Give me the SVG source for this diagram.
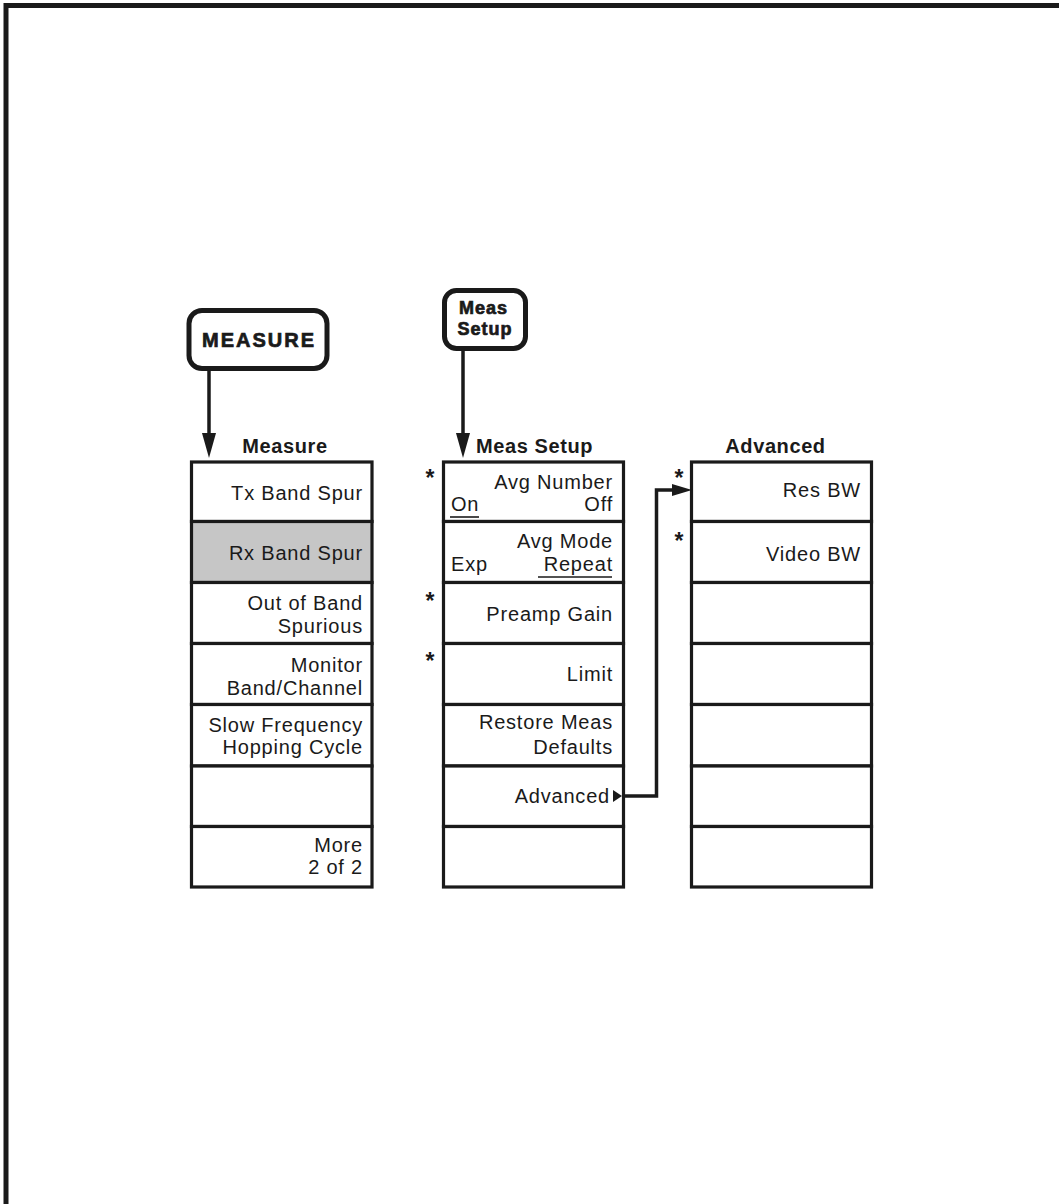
<svg xmlns="http://www.w3.org/2000/svg" width="1059" height="1204" viewBox="0 0 1059 1204">
<style>
.bg{fill:#ffffff}
.frame{fill:none;stroke:#1a1a1a;stroke-width:5}
.box{fill:#ffffff;stroke:#1a1a1a;stroke-width:3.2}
.sel{fill:#c6c6c6;stroke:#1a1a1a;stroke-width:3.2}
.btn{fill:#ffffff;stroke:#1a1a1a;stroke-width:5}
.t{font-family:"Liberation Sans",Arial,sans-serif;font-size:20px;letter-spacing:0.8px;fill:#1a1a1a}
.r{text-anchor:end}
.h{font-family:"Liberation Sans",Arial,sans-serif;font-size:20px;font-weight:bold;letter-spacing:0.6px;fill:#1a1a1a;text-anchor:middle}
.bt{font-family:"Liberation Sans",Arial,sans-serif;font-weight:bold;fill:#1a1a1a;stroke:#1a1a1a;stroke-width:0.7;text-anchor:middle}
.star{font-family:"Liberation Sans",Arial,sans-serif;font-size:23px;font-weight:bold;fill:#1a1a1a;text-anchor:middle}
.ln{fill:none;stroke:#1a1a1a;stroke-width:3.5}
.ul{stroke:#1a1a1a;stroke-width:1.6}
.ah{fill:#1a1a1a}
</style>
<rect class="bg" x="0" y="0" width="1059" height="1204"/>
<path class="frame" d="M6 1204 V5.5 H1059"/>

<g id="btn-measure">
<rect class="btn" x="189" y="310.5" width="138" height="58" rx="13"/>
<text class="bt" x="259" y="346.5" font-size="20" letter-spacing="2">MEASURE</text>
</g>
<g id="btn-meas-setup">
<rect class="btn" x="444.5" y="290.5" width="81" height="58" rx="12"/>
<text class="bt" x="483.5" y="314" font-size="18" letter-spacing="1">Meas</text>
<text class="bt" x="485" y="335" font-size="18" letter-spacing="1">Setup</text>
</g>

<g id="menu-measure">
<text class="h" x="285" y="452.5">Measure</text>
<rect class="box" x="191.5" y="462" width="180.5" height="59.5"/>
<rect class="sel" x="191.5" y="521.5" width="180.5" height="61"/>
<rect class="box" x="191.5" y="582.5" width="180.5" height="61"/>
<rect class="box" x="191.5" y="643.5" width="180.5" height="61"/>
<rect class="box" x="191.5" y="704.5" width="180.5" height="61.5"/>
<rect class="box" x="191.5" y="766" width="180.5" height="60.5"/>
<rect class="box" x="191.5" y="826.5" width="180.5" height="60.5"/>
<text class="t r" x="363" y="499.5">Tx Band Spur</text>
<text class="t r" x="363" y="560">Rx Band Spur</text>
<text class="t r" x="363" y="610">Out of Band</text>
<text class="t r" x="363" y="632.5">Spurious</text>
<text class="t r" x="363" y="672">Monitor</text>
<text class="t r" x="363" y="695">Band/Channel</text>
<text class="t r" x="363" y="732">Slow Frequency</text>
<text class="t r" x="363" y="753.5">Hopping Cycle</text>
<text class="t r" x="363" y="852">More</text>
<text class="t r" x="363" y="873.5">2 of 2</text>
</g>

<g id="menu-meas-setup">
<text class="h" x="534.5" y="452.5">Meas Setup</text>
<rect class="box" x="443.5" y="462" width="180" height="59.5"/>
<rect class="box" x="443.5" y="521.5" width="180" height="61"/>
<rect class="box" x="443.5" y="582.5" width="180" height="61"/>
<rect class="box" x="443.5" y="643.5" width="180" height="61"/>
<rect class="box" x="443.5" y="704.5" width="180" height="61.5"/>
<rect class="box" x="443.5" y="766" width="180" height="60.5"/>
<rect class="box" x="443.5" y="826.5" width="180" height="60.5"/>
<text class="star" x="430" y="486">*</text>
<text class="star" x="430" y="609">*</text>
<text class="star" x="430" y="669">*</text>
<text class="t r" x="613" y="488.5">Avg Number</text>
<text class="t" x="451" y="510.5">On</text>
<text class="t r" x="613" y="510.5">Off</text>
<line class="ul" x1="450" y1="517" x2="479" y2="517"/>
<text class="t r" x="613" y="547.5">Avg Mode</text>
<text class="t" x="451" y="570.5">Exp</text>
<text class="t r" x="613" y="570.5">Repeat</text>
<line class="ul" x1="538" y1="577" x2="612" y2="577"/>
<text class="t r" x="613" y="620.5">Preamp Gain</text>
<text class="t r" x="613" y="680.5">Limit</text>
<text class="t r" x="613" y="729">Restore Meas</text>
<text class="t r" x="613" y="753.5">Defaults</text>
<text class="t r" x="610" y="802.5">Advanced</text>
<polygon class="ah" points="613,790 622,796 613,802"/>
</g>

<g id="menu-advanced">
<text class="h" x="775.5" y="452.5">Advanced</text>
<rect class="box" x="691.5" y="462" width="180" height="59.5"/>
<rect class="box" x="691.5" y="521.5" width="180" height="61"/>
<rect class="box" x="691.5" y="582.5" width="180" height="61"/>
<rect class="box" x="691.5" y="643.5" width="180" height="61"/>
<rect class="box" x="691.5" y="704.5" width="180" height="61.5"/>
<rect class="box" x="691.5" y="766" width="180" height="60.5"/>
<rect class="box" x="691.5" y="826.5" width="180" height="60.5"/>
<text class="star" x="679" y="486">*</text>
<text class="star" x="679" y="549">*</text>
<text class="t r" x="861" y="496.5">Res BW</text>
<text class="t r" x="861" y="560.5">Video BW</text>
</g>

<g id="connectors">
<line class="ln" x1="209" y1="369" x2="209" y2="436"/>
<polygon class="ah" points="202,433 216,433 209,458"/>
<line class="ln" x1="463" y1="349" x2="463" y2="436"/>
<polygon class="ah" points="456,433 470,433 463,458"/>
<path class="ln" d="M622 796 H656.5 V490 H674"/>
<polygon class="ah" points="672,484 692,490 672,496"/>
</g>
</svg>
